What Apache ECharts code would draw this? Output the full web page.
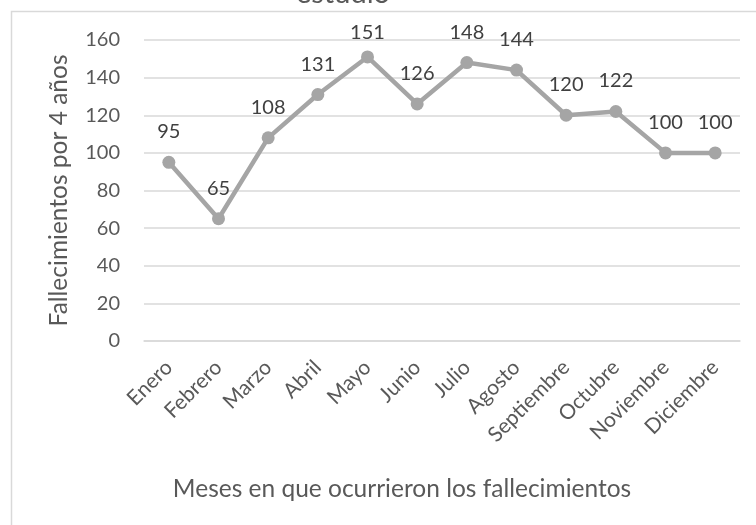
<!DOCTYPE html>
<html>
<head>
<meta charset="utf-8">
<script src="https://cdn.jsdelivr.net/npm/echarts@6/dist/echarts.min.js"></script>
<style>
  html, body { margin: 0; padding: 0; background: #fff; }
  #chart { width: 756px; height: 525px; }
</style>
</head>
<body>
<div id="chart"></div>
<script>
// datos
var meses = ['Enero', 'Febrero', 'Marzo', 'Abril', 'Mayo', 'Junio', 'Julio',
  'Agosto', 'Septiembre', 'Octubre', 'Noviembre', 'Diciembre'];
var fallecimientos = [95, 65, 108, 131, 151, 126, 148, 144, 120, 122, 100, 100];
var yMin = 0, yMax = 160, yPaso = 20;

var fuente = 'Lato, "Noto Sans", sans-serif';
var myChart = echarts.init(document.getElementById('chart'));

// la etiqueta de mayo queda más pegada al punto (tope del gráfico)
var puntos = fallecimientos.map(function (v, i) {
  if (meses[i] === 'Mayo') {
    return { value: v, label: { distance: 8 } };
  }
  return v;
});

var option = {
  animation: false,
  textStyle: { fontFamily: fuente },
  graphic: [
    {
      // marco del área del gráfico
      type: 'rect',
      shape: { x: 11.5, y: 11.5, width: 780, height: 540 },
      style: { fill: 'none', stroke: '#d9d9d9', lineWidth: 1.5 },
      silent: true
    },
    {
      // segunda línea del título, cortada arriba
      type: 'text',
      x: 343, y: -21,
      style: {
        text: 'estudio', fill: '#595959', font: '29px ' + fuente,
        align: 'center', verticalAlign: 'top'
      },
      silent: true
    }
  ],
  grid: { left: 144, right: 16, top: 40, bottom: 184 },
  xAxis: {
    type: 'category',
    data: meses,
    boundaryGap: true,
    name: 'Meses en que ocurrieron los fallecimientos',
    nameLocation: 'middle',
    nameGap: 136,
    // el título del eje está corrido a la izquierda
    nameTextStyle: { color: '#595959', fontSize: 24.5, padding: [0, 80, 0, 0] },
    axisLine: { lineStyle: { color: '#d9d9d9', width: 1.5 } },
    axisTick: { show: false },
    axisLabel: { color: '#595959', fontSize: 21, rotate: 45, margin: 23, interval: 0 }
  },
  yAxis: {
    type: 'value',
    min: yMin, max: yMax, interval: yPaso,
    name: 'Fallecimientos por 4 años',
    nameLocation: 'middle',
    nameGap: 72,
    nameTextStyle: { color: '#595959', fontSize: 24.5 },
    axisLine: { show: false },
    axisTick: { show: false },
    axisLabel: { color: '#595959', fontSize: 20, margin: 24 },
    splitLine: { lineStyle: { color: '#d9d9d9', width: 1.5 } }
  },
  series: [{
    type: 'line',
    data: puntos,
    symbol: 'circle',
    symbolSize: 13,
    lineStyle: { color: '#a5a5a5', width: 4.5 },
    itemStyle: { color: '#a5a5a5' },
    label: {
      show: true, position: 'top', distance: 14,
      color: '#404040', fontSize: 20
    }
  }]
};
myChart.setOption(option);
</script>
</body>
</html>
